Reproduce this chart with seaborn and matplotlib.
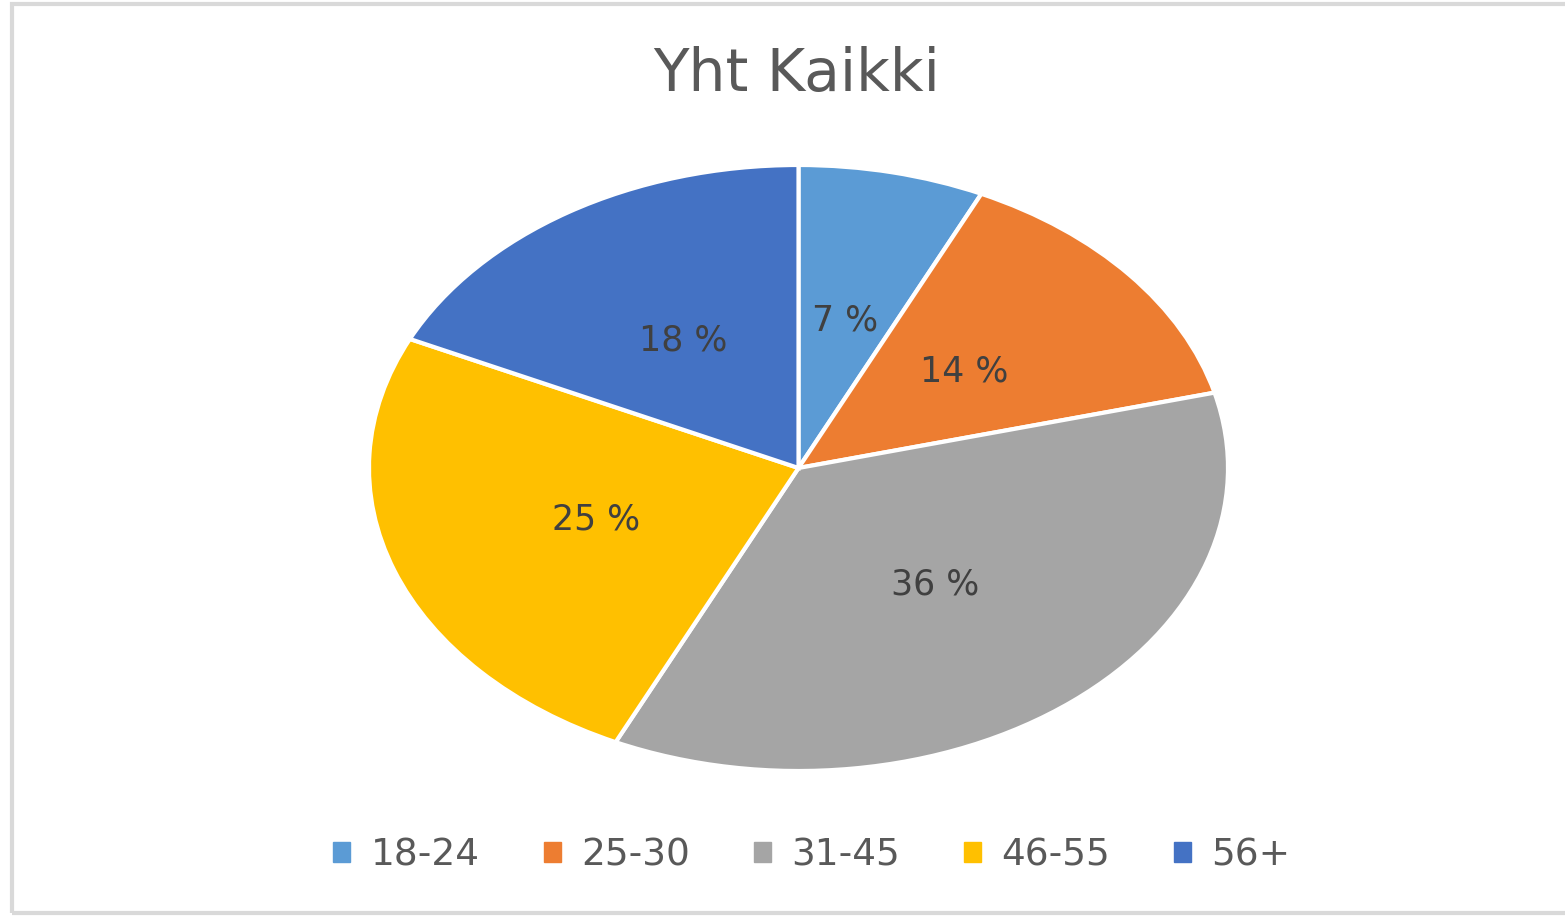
import matplotlib.pyplot as plt
import matplotlib.patches as mpatches
import seaborn as sns

sns.set_theme(style='white')
plt.rcParams['font.family'] = ['DejaVu Sans']

# ikäryhmät ja osuudet
groups = ['18-24', '25-30', '31-45', '46-55', '56+']
shares = [7, 14, 36, 25, 18]
colors = ['#5B9BD5', '#ED7D31', '#A5A5A5', '#FFC000', '#4472C4']

fig = plt.figure(figsize=(15.65, 9.17), dpi=100)
fig.patch.set_facecolor('white')

# harmaa kehys
fig.patches.append(mpatches.Rectangle((12/1565, 4/917), 1.5, 909/917,
                                      transform=fig.transFigure, fill=False,
                                      edgecolor='#D9D9D9', linewidth=3))

ax = fig.add_axes([369/1565, 146/917, 859/1565, 606/917])
wedges, texts, autotexts = ax.pie(shares, colors=colors, startangle=90, counterclock=False,
                                  autopct=lambda p: f'{p:.0f} %', pctdistance=0.5,
                                  wedgeprops=dict(edgecolor='white', linewidth=3),
                                  textprops=dict(color='#404040', fontsize=25))
for w in wedges:
    w.set_clip_on(False)
ax.set_aspect('auto')
ax.set_xlim(-1, 1)
ax.set_ylim(-1, 1)
ax.axis('off')

fig.text(797/1565, 1 - 75/917, 'Yht Kaikki', ha='center', va='center',
         fontsize=42, color='#595959')

handles = [mpatches.Patch(color=c, label=g) for c, g in zip(colors, groups)]
leg = fig.legend(handles=handles, loc='center', bbox_to_anchor=(812/1565, 1 - 855/917),
                 ncol=5, frameon=False, fontsize=27, handlelength=0.45, handleheight=0.45,
                 handletextpad=0.55, columnspacing=1.7)
for t in leg.get_texts():
    t.set_color('#595959')

fig.savefig('out.png', dpi=100, facecolor='white')
